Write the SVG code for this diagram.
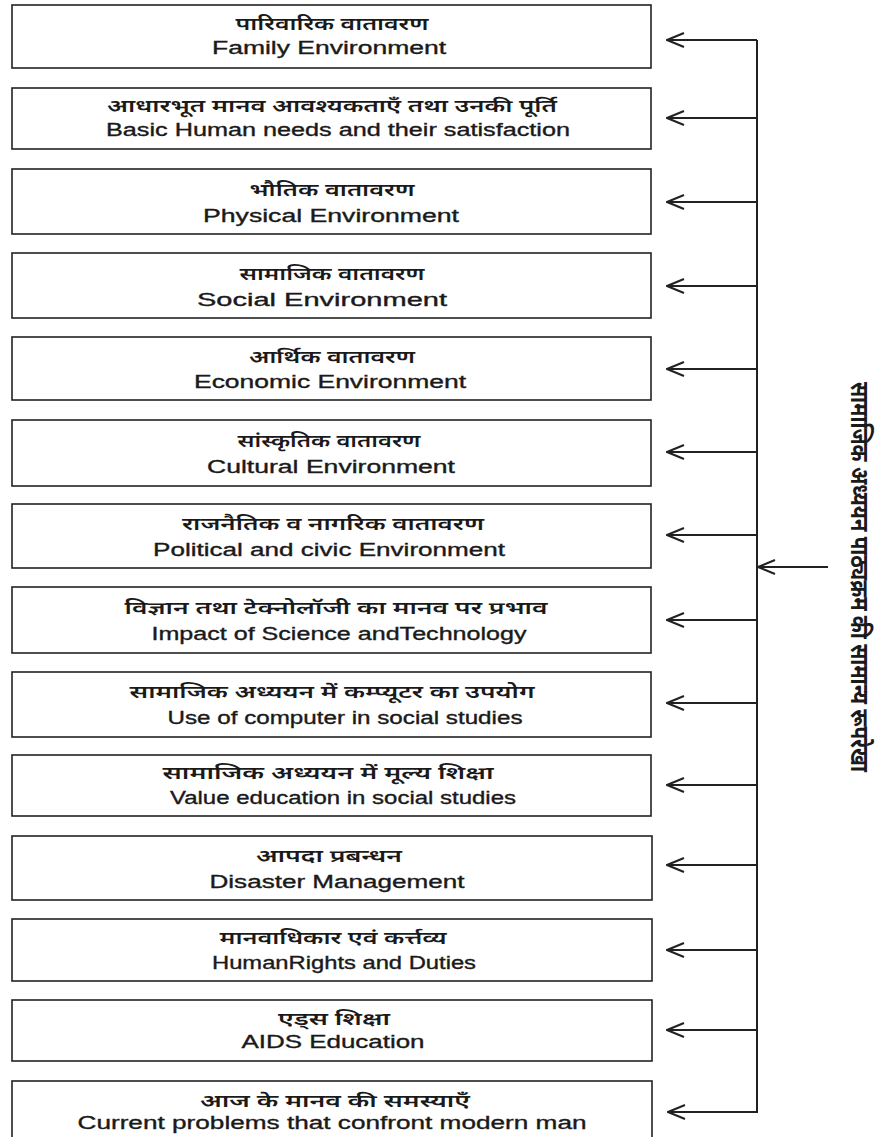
<svg xmlns="http://www.w3.org/2000/svg" width="888" height="1137" viewBox="0 0 888 1137">
<defs>
<style>
.box{fill:#fff;stroke:#222;stroke-width:1.6}
.hi{font-family:"Noto Sans Devanagari","Lohit Devanagari","FreeSans","Noto Sans",sans-serif;font-size:17px;font-weight:600;fill:#1a1a1a;text-anchor:middle}
.en{font-family:"Liberation Sans",Arial,sans-serif;font-size:18px;fill:#1a1a1a;stroke:#1a1a1a;stroke-width:0.35;text-anchor:middle}
.conn{stroke:#222;stroke-width:2;fill:none}
.title{font-family:"Noto Sans Devanagari","Lohit Devanagari","FreeSans","Noto Sans",sans-serif;font-size:25px;font-weight:700;fill:#1a1a1a;text-anchor:middle}
</style>
<marker id="ah" viewBox="0 0 20 16" refX="19" refY="8" markerWidth="20" markerHeight="16" orient="auto" markerUnits="userSpaceOnUse">
<path d="M2,1 L19,8 L2,15" fill="none" stroke="#222" stroke-width="2"/>
</marker>
</defs>
<rect width="888" height="1137" fill="#fff"/>

<g id="n1"><rect class="box" x="12" y="5" width="639" height="63"/>
<text class="hi" x="332" y="30" textLength="193" lengthAdjust="spacingAndGlyphs">पारिवारिक वातावरण</text>
<text class="en" x="329" y="54" textLength="234" lengthAdjust="spacingAndGlyphs">Family Environment</text></g>

<g id="n2"><rect class="box" x="12" y="88" width="639" height="61"/>
<text class="hi" x="332" y="112" textLength="450" lengthAdjust="spacingAndGlyphs">आधारभूत मानव आवश्यकताएँ तथा उनकी पूर्ति</text>
<text class="en" x="338" y="136" textLength="464" lengthAdjust="spacingAndGlyphs">Basic Human needs and their satisfaction</text></g>

<g id="n3"><rect class="box" x="12" y="169" width="639" height="65"/>
<text class="hi" x="332" y="196" textLength="165" lengthAdjust="spacingAndGlyphs">भौतिक वातावरण</text>
<text class="en" x="331" y="222" textLength="256" lengthAdjust="spacingAndGlyphs">Physical  Environment</text></g>

<g id="n4"><rect class="box" x="12" y="253" width="639" height="65"/>
<text class="hi" x="332" y="280" textLength="185" lengthAdjust="spacingAndGlyphs">सामाजिक वातावरण</text>
<text class="en" x="322" y="306" textLength="250" lengthAdjust="spacingAndGlyphs">Social  Environment</text></g>

<g id="n5"><rect class="box" x="12" y="337" width="639" height="63"/>
<text class="hi" x="332" y="363" textLength="166" lengthAdjust="spacingAndGlyphs">आर्थिक वातावरण</text>
<text class="en" x="330" y="388" textLength="272" lengthAdjust="spacingAndGlyphs">Economic  Environment</text></g>

<g id="n6"><rect class="box" x="12" y="420" width="639" height="66"/>
<text class="hi" x="329" y="447" textLength="183" lengthAdjust="spacingAndGlyphs">सांस्कृतिक वातावरण</text>
<text class="en" x="331" y="473" textLength="248" lengthAdjust="spacingAndGlyphs">Cultural  Environment</text></g>

<g id="n7"><rect class="box" x="12" y="504" width="639" height="64"/>
<text class="hi" x="333" y="530" textLength="302" lengthAdjust="spacingAndGlyphs">राजनैतिक व नागरिक वातावरण</text>
<text class="en" x="329" y="556" textLength="352" lengthAdjust="spacingAndGlyphs">Political and civic Environment</text></g>

<g id="n8"><rect class="box" x="12" y="587" width="639" height="66"/>
<text class="hi" x="336" y="614" textLength="423" lengthAdjust="spacingAndGlyphs">विज्ञान तथा टेक्नोलॉजी का मानव पर प्रभाव</text>
<text class="en" x="339" y="640" textLength="375" lengthAdjust="spacingAndGlyphs">Impact of Science andTechnology</text></g>

<g id="n9"><rect class="box" x="12" y="672" width="639" height="65"/>
<text class="hi" x="332" y="698" textLength="405" lengthAdjust="spacingAndGlyphs">सामाजिक अध्ययन में कम्प्यूटर का उपयोग</text>
<text class="en" x="345" y="724" textLength="355" lengthAdjust="spacingAndGlyphs">Use of computer in social studies</text></g>

<g id="n10"><rect class="box" x="12" y="755" width="639" height="61"/>
<text class="hi" x="328" y="779" textLength="331" lengthAdjust="spacingAndGlyphs">सामाजिक अध्ययन में मूल्य शिक्षा</text>
<text class="en" x="343" y="804" textLength="346" lengthAdjust="spacingAndGlyphs">Value education in social studies</text></g>

<g id="n11"><rect class="box" x="12" y="836" width="640" height="64"/>
<text class="hi" x="329" y="862" textLength="146" lengthAdjust="spacingAndGlyphs">आपदा प्रबन्धन</text>
<text class="en" x="337" y="888" textLength="255" lengthAdjust="spacingAndGlyphs">Disaster Management</text></g>

<g id="n12"><rect class="box" x="12" y="919" width="640" height="62"/>
<text class="hi" x="333" y="944" textLength="227" lengthAdjust="spacingAndGlyphs">मानवाधिकार एवं कर्त्तव्य</text>
<text class="en" x="344" y="969" textLength="264" lengthAdjust="spacingAndGlyphs">HumanRights and Duties</text></g>

<g id="n13"><rect class="box" x="12" y="1000" width="640" height="61"/>
<text class="hi" x="334" y="1025" textLength="112" lengthAdjust="spacingAndGlyphs">एड्स शिक्षा</text>
<text class="en" x="333" y="1048" textLength="183" lengthAdjust="spacingAndGlyphs">AIDS Education</text></g>

<g id="n14"><rect class="box" x="12" y="1081" width="640" height="70"/>
<text class="hi" x="335" y="1107" textLength="270" lengthAdjust="spacingAndGlyphs">आज के मानव की समस्याएँ</text>
<text class="en" x="332" y="1129" textLength="509" lengthAdjust="spacingAndGlyphs">Current problems that confront modern man</text></g>

<g id="connectors">
<path class="conn" stroke-width="2.4" d="M757,40 V1112"/>
<line class="conn" x1="757" y1="40" x2="667" y2="40" marker-end="url(#ah)"/>
<line class="conn" x1="757" y1="118" x2="667" y2="118" marker-end="url(#ah)"/>
<line class="conn" x1="757" y1="202" x2="667" y2="202" marker-end="url(#ah)"/>
<line class="conn" x1="757" y1="286" x2="667" y2="286" marker-end="url(#ah)"/>
<line class="conn" x1="757" y1="369" x2="667" y2="369" marker-end="url(#ah)"/>
<line class="conn" x1="757" y1="452" x2="667" y2="452" marker-end="url(#ah)"/>
<line class="conn" x1="757" y1="535" x2="667" y2="535" marker-end="url(#ah)"/>
<line class="conn" x1="757" y1="620" x2="667" y2="620" marker-end="url(#ah)"/>
<line class="conn" x1="757" y1="703" x2="667" y2="703" marker-end="url(#ah)"/>
<line class="conn" x1="757" y1="785" x2="667" y2="785" marker-end="url(#ah)"/>
<line class="conn" x1="757" y1="865" x2="667" y2="865" marker-end="url(#ah)"/>
<line class="conn" x1="757" y1="950" x2="667" y2="950" marker-end="url(#ah)"/>
<line class="conn" x1="757" y1="1030" x2="667" y2="1030" marker-end="url(#ah)"/>
<line class="conn" x1="758" y1="1112" x2="668" y2="1112" marker-end="url(#ah)"/>
<line class="conn" x1="828" y1="567" x2="758" y2="567" marker-end="url(#ah)"/>
</g>

<g id="title">
<text class="title" transform="translate(851,577) rotate(90)" x="0" y="0" textLength="390" lengthAdjust="spacingAndGlyphs">सामाजिक अध्ययन पाठ्यक्रम की सामान्य रूपरेखा</text>
</g>
</svg>
